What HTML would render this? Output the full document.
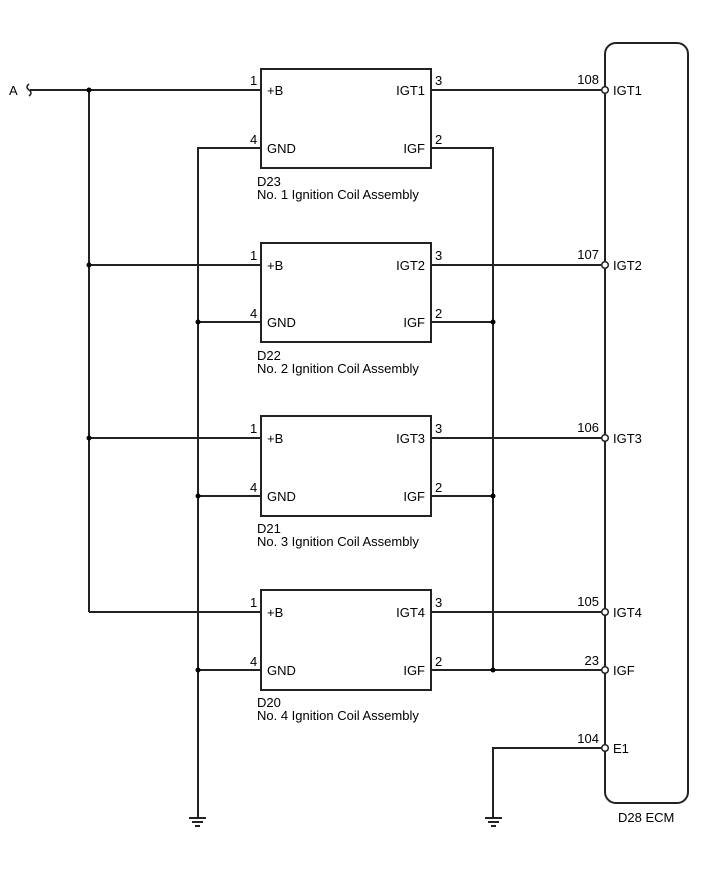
<!DOCTYPE html>
<html><head><style>body{margin:0;background:#fff}svg{display:block}</style></head><body>
<svg width="713" height="882" viewBox="0 0 713 882" xmlns="http://www.w3.org/2000/svg" font-family="Liberation Sans, Arial, sans-serif" font-size="13" fill="#000">
<g stroke="#222" stroke-width="2" fill="none">
<rect x="605" y="43" width="83" height="760" rx="11"/>
<rect x="261" y="69" width="170" height="99"/>
<rect x="261" y="243" width="170" height="99"/>
<rect x="261" y="416" width="170" height="100"/>
<rect x="261" y="590" width="170" height="100"/>
<path d="M30 90H261M89 90V612M89 265H261M89 438H261M89 612H261"/>
<path d="M261 148H198V818M198 322H261M198 496H261M198 670H261"/>
<path d="M431 148H493V670M431 322H493M431 496H493M431 670H605"/>
<path d="M431 90H605M431 265H605M431 438H605M431 612H605"/>
<path d="M605 748H493V818"/>
<path d="M29 84q-4 3 0 6q4 3 0 6" stroke-width="1.5"/>
<path d="M189 818h17M192 822h11M195 826h5M485 818h17M488 822h11M491 826h5" stroke-width="2"/>
</g>
<g fill="#000">
<circle cx="89" cy="90" r="2.5"/><circle cx="89" cy="265" r="2.5"/><circle cx="89" cy="438" r="2.5"/>
<circle cx="198" cy="322" r="2.5"/><circle cx="198" cy="496" r="2.5"/><circle cx="198" cy="670" r="2.5"/>
<circle cx="493" cy="322" r="2.5"/><circle cx="493" cy="496" r="2.5"/><circle cx="493" cy="670" r="2.5"/>
</g>
<g fill="#fff" stroke="#222" stroke-width="1.5">
<circle cx="605" cy="90" r="3.3"/><circle cx="605" cy="265" r="3.3"/><circle cx="605" cy="438" r="3.3"/>
<circle cx="605" cy="612" r="3.3"/><circle cx="605" cy="670" r="3.3"/><circle cx="605" cy="748" r="3.3"/>
</g>
<text x="9" y="95">A</text>
<g>
<text x="250" y="85">1</text><text x="250" y="144">4</text><text x="435" y="85">3</text><text x="435" y="144">2</text>
<text x="267" y="95">+B</text><text x="267" y="153">GND</text><text x="425" y="95" text-anchor="end">IGT1</text><text x="425" y="153" text-anchor="end">IGF</text>
<text x="257" y="186">D23</text><text x="257" y="199">No. 1 Ignition Coil Assembly</text>

<text x="250" y="260">1</text><text x="250" y="318">4</text><text x="435" y="260">3</text><text x="435" y="318">2</text>
<text x="267" y="270">+B</text><text x="267" y="327">GND</text><text x="425" y="270" text-anchor="end">IGT2</text><text x="425" y="327" text-anchor="end">IGF</text>
<text x="257" y="360">D22</text><text x="257" y="373">No. 2 Ignition Coil Assembly</text>

<text x="250" y="433">1</text><text x="250" y="492">4</text><text x="435" y="433">3</text><text x="435" y="492">2</text>
<text x="267" y="443">+B</text><text x="267" y="501">GND</text><text x="425" y="443" text-anchor="end">IGT3</text><text x="425" y="501" text-anchor="end">IGF</text>
<text x="257" y="533">D21</text><text x="257" y="546">No. 3 Ignition Coil Assembly</text>

<text x="250" y="607">1</text><text x="250" y="666">4</text><text x="435" y="607">3</text><text x="435" y="666">2</text>
<text x="267" y="617">+B</text><text x="267" y="675">GND</text><text x="425" y="617" text-anchor="end">IGT4</text><text x="425" y="675" text-anchor="end">IGF</text>
<text x="257" y="707">D20</text><text x="257" y="720">No. 4 Ignition Coil Assembly</text>

<text x="599" y="84" text-anchor="end">108</text><text x="613" y="95">IGT1</text>
<text x="599" y="259" text-anchor="end">107</text><text x="613" y="270">IGT2</text>
<text x="599" y="432" text-anchor="end">106</text><text x="613" y="443">IGT3</text>
<text x="599" y="606" text-anchor="end">105</text><text x="613" y="617">IGT4</text>
<text x="599" y="665" text-anchor="end">23</text><text x="613" y="675">IGF</text>
<text x="599" y="743" text-anchor="end">104</text><text x="613" y="753">E1</text>
<text x="618" y="822">D28 ECM</text>
</g>
</svg>
</body></html>
